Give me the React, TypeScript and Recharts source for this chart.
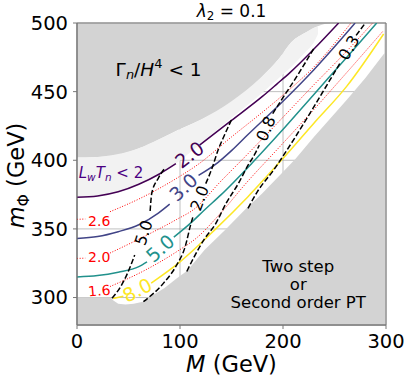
import React from 'react';
import { ComposedChart, Line, Area, Scatter, XAxis, YAxis, CartesianGrid, ReferenceArea } from 'recharts';

const FONT = 'DejaVu Sans';

const xTicks = [0, 100, 200, 300];
const yTicks = [300, 350, 400, 450, 500];

type Pt = [number, number | null];

// solid contours (L_w T_n)
const solid20: Pt[] = [[0, 373], [20, 374], [40, 377], [60, 382.5], [80, 390], [96, 397.5], [108, null], [119, 411], [150, 429], [180, 446.5], [194, 455.5], [207, 464], [230, 481], [254, 500]];
const solid30: Pt[] = [[0, 343], [20, 344.5], [40, 348], [60, 353], [79, 361.5], [90, 368], [104, null], [118, 389], [137, 398.5], [150, 407], [165, 418], [200, 443], [230, 466], [270, 500]];
const solid50: Pt[] = [[0, 315], [20, 316], [40, 318.5], [60, 322.5], [68, 326], [80, null], [94, 344], [110, 354], [124, 364], [140, 375], [170, 398], [197, 420], [230, 448], [262, 475], [291, 500]];
const solid80: Pt[] = [[35, 299.3], [45, 301], [58, null], [72, 310.5], [100, 326], [134, 349.5], [166, 373.5], [199, 400.5], [230, 427], [262, 454], [297.7, 492]];

// red dotted contours
const red26: Pt[] = [[0, 357], [8, 357.2], [20, null], [32, 362.5], [65, 373.6], [97, 387], [117, 396.7], [150, 417], [180, 435], [200, 447.5], [230, 468], [266, 500]];
const red20: Pt[] = [[0, 328.5], [8, 328.7], [20, null], [32, 332.4], [65, 344.4], [97, 357], [113, 364], [140, 385], [165, 404], [197, 429], [230, 455], [260, 478], [287, 500]];
const red16: Pt[] = [[32, 308], [65, 319.5], [97, 333.5], [117, 344], [140, 362], [165, 384], [197, 410], [230, 437], [262, 464], [297, 494]];

// black dashed contours
const dash50: Pt[] = [[34, 299.5], [42, 307.5], [48, 316], [52, 323], [56, 331], [64, null], [71, 363], [72.6, 376], [79, 387], [85.5, 394.5]];
const dash20: Pt[] = [[64.5, 297], [84, 310.5], [97, 324], [105, 337], [110, 352], [113, 360], [119, null], [125, 383], [131, 394], [137, 407.5], [143, 418], [150, 429.5]];
const dash08: Pt[] = [[106.6, 319], [114, 330], [124, 343], [134, 353], [145, 369], [157, 383.5], [165, 395], [173, 405], [177, 411], [183, null], [190, 434], [199, 444.5], [215, 463], [230, 481.5]];
const dash03: Pt[] = [[166, 365], [175, 377], [191, 393], [200, 403], [212, 417], [226, 434], [238, 449], [250, 464], [256, 471.5], [264, null], [271, 491], [280, 500]];

// shaded regions
const lowerEdge: [number, number][] = [[0, 300], [33, 300], [35, 298], [40, 295.5], [47, 295], [55, 295.5], [64, 297], [72, 301], [85, 307], [97, 314], [107, 319.5], [124, 334.8], [144, 349.3], [163, 364], [180, 376], [199, 390.7], [212, 401], [230, 417], [262, 444], [280, 460], [298.4, 478], [298.5, 500], [300, 500]];
const upperEdge: [number, number][] = [[0, 402], [32, 403], [65, 410], [98, 422], [131, 433.5], [163, 449], [185, 465], [196, 474], [208, 486], [223, 493.5], [235, 498], [246, 500]];
const bandEdges: [number, number, number][] = [[0, 373, 402], [20, 374, 402.4], [40, 377, 404.5], [60, 382.5, 408.8], [80, 390, 415.5], [100, 399.8, 422.6], [120, 412, 429.6], [150, 431, 443], [178, 448, 460], [196, 460, 474], [208, 468, 486], [222, 479, 493], [230, 486, 496.5], [234, 492, 497.5]];

// inline labels
const solidLabelText = ['2.0', '3.0', '5.0', '8.0'];
const solidLabelPos: [number, number][] = [[109, 404.2], [103.3, 380.5], [80.7, 336], [58.5, 305.5]];
const solidLabelAngle = [-37, -43, -42, -27];
const solidColors = ['#440154', '#414487', '#21918c', '#fde725'];

const dashLabelText = ['5.0', '2.0', '0.8', '0.3'];
const dashLabelPos: [number, number][] = [[64.7, 347.3], [119, 372.4], [183.5, 423], [264, 482]];
const dashLabelAngle = [-72, -69, -67, -60];

const redLabelText = ['2.6', '2.0', '1.6'];
const redLabelPos: [number, number][] = [[21.6, 356], [21.6, 329.3], [21.6, 305]];
const redLabelAngle = [0, 0, -5];

const notes = [
  { x: 79.2, y: 461.6, key: 'gamma' },
  { x: 1.7, y: 387, key: 'lw' },
  { x: 214.8, y: 318.9, key: 'two' },
];

const toXY = (pts: Pt[]) => pts.map(([x, y]) => ({ x, y }));

const labelTable = (texts: string[], pos: [number, number][], angles: number[], colors: string[] | string) =>
  texts.map((t, i) => ({
    x: pos[i][0],
    y: pos[i][1],
    text: t,
    angle: angles[i],
    color: Array.isArray(colors) ? colors[i] : colors,
  }));

const makeTextShape = (size: number) => (props: any) => {
  const { cx, cy, payload } = props;
  if (cx == null || cy == null) return <g />;
  return (
    <text
      x={cx}
      y={cy}
      transform={`rotate(${payload.angle} ${cx} ${cy})`}
      textAnchor="middle"
      dominantBaseline="central"
      fill={payload.color}
      fontSize={size}
      fontFamily={FONT}
    >
      {payload.text}
    </text>
  );
};

const NoteShape = (props: any) => {
  const { cx, cy, payload } = props;
  if (cx == null || cy == null) return <g />;
  if (payload.key === 'gamma') {
    const F = 18.5;
    return (
      <text x={cx} y={cy} textAnchor="middle" fontSize={F} fontFamily={FONT} fill="#000">
        <tspan>Γ</tspan>
        <tspan fontStyle="italic" fontSize={F * 0.7} dy={F * 0.2}>n</tspan>
        <tspan dy={-F * 0.2}>/</tspan>
        <tspan fontStyle="italic">H</tspan>
        <tspan fontSize={F * 0.7} dy={-F * 0.4}>4</tspan>
        <tspan dy={F * 0.4}>{' < 1'}</tspan>
      </text>
    );
  }
  if (payload.key === 'lw') {
    const F = 15;
    return (
      <text x={cx} y={cy} textAnchor="start" fontSize={F} fontFamily={FONT} fill="#4b0082">
        <tspan fontStyle="italic">L</tspan>
        <tspan fontStyle="italic" fontSize={F * 0.7} dy={F * 0.2}>w</tspan>
        <tspan fontStyle="italic" dy={-F * 0.2}>T</tspan>
        <tspan fontStyle="italic" fontSize={F * 0.7} dy={F * 0.2}>n</tspan>
        <tspan dy={-F * 0.2}>{' < 2'}</tspan>
      </text>
    );
  }
  const F = 16.5;
  return (
    <text x={cx} y={cy} textAnchor="middle" fontSize={F} fontFamily={FONT} fill="#000">
      <tspan x={cx} y={cy}>Two step</tspan>
      <tspan x={cx} y={cy + 18}>or</tspan>
      <tspan x={cx} y={cy + 36}>Second order PT</tspan>
    </text>
  );
};

const XLabel = (props: any) => {
  const vb = props.viewBox || { x: 77, y: 325, width: 309, height: 56 };
  const F = 22.5;
  return (
    <text x={vb.x + vb.width / 2} y={vb.y + 46.5} textAnchor="middle" fontSize={F} fontFamily={FONT} fill="#000">
      <tspan fontStyle="italic">M</tspan>
      <tspan>{' (GeV)'}</tspan>
    </text>
  );
};

const YLabel = (props: any) => {
  const vb = props.viewBox || { x: 0, y: 23, width: 77, height: 302 };
  const F = 22.5;
  const cx = 24;
  const cy = vb.y + vb.height / 2 + 1.5;
  return (
    <text x={cx} y={cy} transform={`rotate(-90 ${cx} ${cy})`} textAnchor="middle" fontSize={F} fontFamily={FONT} fill="#000">
      <tspan fontStyle="italic">m</tspan>
      <tspan fontSize={F * 0.7} dy={F * 0.2}>Φ</tspan>
      <tspan dy={-F * 0.2}>{' (GeV)'}</tspan>
    </text>
  );
};

const TitleLabel = (props: any) => {
  const vb = props.viewBox || { x: 77, y: 23, width: 309, height: 302 };
  const F = 17;
  return (
    <text x={vb.x + vb.width / 2} y={vb.y - 6} textAnchor="middle" fontSize={F} fontFamily={FONT} fill="#000">
      <tspan fontStyle="italic">λ</tspan>
      <tspan fontSize={F * 0.7} dy={F * 0.2}>2</tspan>
      <tspan dy={-F * 0.2}>{' = 0.1'}</tspan>
    </text>
  );
};

export default function App() {
  const lowerData = lowerEdge.map(([x, y]) => ({ x, r: [280, y] }));
  const upperData = upperEdge.map(([x, y]) => ({ x, r: [y, 500] }));
  const bandData = bandEdges.map(([x, lo, hi]) => ({ x, r: [lo, hi] }));

  const solidLabels = labelTable(solidLabelText, solidLabelPos, solidLabelAngle, solidColors);
  const dashLabels = labelTable(dashLabelText, dashLabelPos, dashLabelAngle, '#000');
  const redLabels = labelTable(redLabelText, redLabelPos, redLabelAngle, '#ff0000');

  const axisColor = '#777';
  const tickStyle = { fill: '#000', fontSize: 19.5, fontFamily: FONT };

  const solidSeries: [Pt[], string][] = [
    [solid20, solidColors[0]],
    [solid30, solidColors[1]],
    [solid50, solidColors[2]],
    [solid80, solidColors[3]],
  ];
  const redSeries = [red26, red20, red16];
  const dashSeries = [dash50, dash20, dash08, dash03];

  return (
    <div style={{ position: 'absolute', left: 0, top: 0, background: '#fff' }}>
      <ComposedChart width={407} height={381} margin={{ top: 23, right: 21, bottom: 0, left: 0 }}>
        <CartesianGrid stroke="#b0b0b0" strokeWidth={0.8} />
        <XAxis
          type="number"
          dataKey="x"
          domain={[0, 300]}
          ticks={xTicks}
          allowDataOverflow
          height={56}
          stroke={axisColor}
          tickSize={4}
          tickMargin={5}
          tick={tickStyle}
          label={{ content: XLabel }}
        />
        <YAxis
          type="number"
          domain={[280, 500]}
          ticks={yTicks}
          allowDataOverflow
          width={77}
          stroke={axisColor}
          tickSize={4}
          tickMargin={5}
          tick={tickStyle}
          label={{ content: YLabel }}
        />
        <Area data={lowerData} dataKey="r" type="linear" fill="#d3d3d3" fillOpacity={1} stroke="none" isAnimationActive={false} dot={false} activeDot={false} />
        <Area data={upperData} dataKey="r" type="monotone" fill="#d3d3d3" fillOpacity={1} stroke="none" isAnimationActive={false} dot={false} activeDot={false} />
        <Area data={bandData} dataKey="r" type="monotone" fill="#f2f2f2" fillOpacity={1} stroke="none" isAnimationActive={false} dot={false} activeDot={false} />
        {redSeries.map((s, i) => (
          <Line key={'r' + i} data={toXY(s)} dataKey="y" type="monotone" stroke="#ff0000" strokeWidth={1} strokeDasharray="1 1.65" dot={false} activeDot={false} isAnimationActive={false} />
        ))}
        {solidSeries.map(([s, c], i) => (
          <Line key={'s' + i} data={toXY(s)} dataKey="y" type="monotone" stroke={c} strokeWidth={1.5} dot={false} activeDot={false} isAnimationActive={false} />
        ))}
        {dashSeries.map((s, i) => (
          <Line key={'d' + i} data={toXY(s)} dataKey="y" type="monotone" stroke="#000" strokeWidth={1.5} strokeDasharray="5.5 2.4" dot={false} activeDot={false} isAnimationActive={false} />
        ))}
        <Scatter data={solidLabels} dataKey="y" shape={makeTextShape(19)} isAnimationActive={false} />
        <Scatter data={dashLabels} dataKey="y" shape={makeTextShape(16)} isAnimationActive={false} />
        <Scatter data={redLabels} dataKey="y" shape={makeTextShape(14)} isAnimationActive={false} />
        <Scatter data={notes} dataKey="y" shape={NoteShape} isAnimationActive={false} />
        <ReferenceArea x1={0} x2={300} y1={280} y2={500} fill="none" fillOpacity={0} stroke={axisColor} strokeWidth={1} ifOverflow="visible" label={{ content: TitleLabel }} />
      </ComposedChart>
    </div>
  );
}
